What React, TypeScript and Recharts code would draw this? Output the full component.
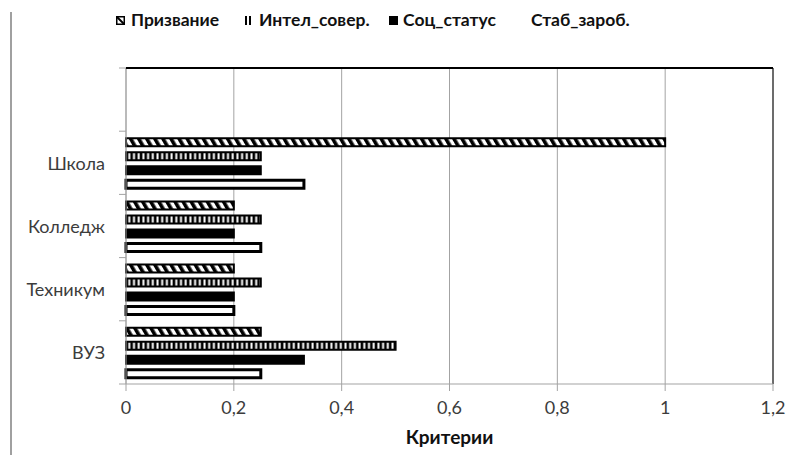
import React from 'react';
import { BarChart, Bar, XAxis, YAxis, CartesianGrid, ReferenceLine } from 'recharts';

// Категории сверху вниз (верхняя полоса пустая)
const categories = [' ', 'Школа', 'Колледж', 'Техникум', 'ВУЗ'];
const prizvanie = [null, 1, 0.2, 0.2, 0.25];
const intelSover = [null, 0.25, 0.25, 0.25, 0.5];
const socStatus = [null, 0.25, 0.2, 0.2, 0.33];
const stabZarob = [null, 0.33, 0.25, 0.2, 0.25];
const xTicks = [0, 0.2, 0.4, 0.6, 0.8, 1, 1.2];

const data = categories.map((name, i) => ({
  name,
  prizvanie: prizvanie[i],
  intelSover: intelSover[i],
  socStatus: socStatus[i],
  stabZarob: stabZarob[i],
}));

const FONT = 'Lato, "Open Sans", sans-serif';
const GRID = '#a3a3a3';
const TEXT = '#3c3c3c';

const CHART_W = 795;
const CHART_H = 455;
const Y_AXIS_W = 126;
const MARGIN = { top: 68, right: 22, bottom: 0, left: 0 };
const PLOT_W = CHART_W - Y_AXIS_W - MARGIN.left - MARGIN.right;

// подпись категории + засечки на границах полос
const CategoryTick = (props: any) => {
  const { x, y, payload } = props;
  const half = payload?.offset ?? 0;
  const axisX = x + 21;
  const isLast = payload.value === categories[categories.length - 1];
  return (
    <g>
      <line x1={axisX - 7} x2={axisX} y1={y - half} y2={y - half} stroke={GRID} />
      {isLast && <line x1={axisX - 7} x2={axisX} y1={y + half} y2={y + half} stroke={GRID} />}
      <text x={x} y={y} textAnchor="end" dominantBaseline="central" fill={TEXT} fontSize={18} fontFamily={FONT}>
        {payload.value}
      </text>
    </g>
  );
};

const LegendIcon = ({ kind }: { kind: string }) => {
  if (kind === 'diag')
    return (
      <svg width={9} height={9} style={{ marginRight: 6 }}>
        <rect x={0.75} y={0.75} width={7.5} height={7.5} fill="#fff" stroke="#000" strokeWidth={1.5} />
        <line x1={1} y1={1} x2={8} y2={8} stroke="#000" strokeWidth={2} />
      </svg>
    );
  if (kind === 'stripes')
    return (
      <svg width={9} height={9} style={{ marginRight: 6 }}>
        <rect x={1} y={0} width={2} height={9} fill="#000" />
        <rect x={5} y={0} width={2} height={9} fill="#000" />
      </svg>
    );
  if (kind === 'solid')
    return (
      <svg width={9} height={9} style={{ marginRight: 5 }}>
        <rect x={0} y={0} width={9} height={9} fill="#000" />
      </svg>
    );
  return <svg width={9} height={9} style={{ marginRight: 5 }} />;
};

const legendItems = [
  { label: 'Призвание', kind: 'diag', left: 116 },
  { label: 'Интел_совер.', kind: 'stripes', left: 244 },
  { label: 'Соц_статус', kind: 'solid', left: 389 },
  { label: 'Стаб_зароб.', kind: 'blank', left: 517 },
];

export default function App() {
  return (
    <div style={{ position: 'absolute', left: 0, top: 0, width: CHART_W, height: CHART_H, background: '#fff' }}>
      <div style={{ position: 'absolute', left: 10, top: 12, width: 2, height: 443, background: '#a0a0a0' }} />
      {legendItems.map((item) => (
        <div
          key={item.label}
          style={{
            position: 'absolute',
            left: item.left,
            top: 10,
            display: 'flex',
            alignItems: 'center',
            fontFamily: FONT,
            fontWeight: 700,
            fontSize: 17.5,
            color: '#111',
            lineHeight: '20px',
            whiteSpace: 'nowrap',
          }}
        >
          <LegendIcon kind={item.kind} />
          {item.label}
        </div>
      ))}
      <BarChart
        width={CHART_W}
        height={CHART_H}
        data={data}
        layout="vertical"
        barSize={8}
        barGap={6}
        margin={MARGIN}
      >
        <defs>
          <pattern id="hatchDiag" patternUnits="userSpaceOnUse" width="7" height="7" patternTransform="rotate(-30)">
            <rect width="7" height="7" fill="#fff" />
            <rect width="3.6" height="7" fill="#000" />
          </pattern>
          <pattern id="vStripes" patternUnits="userSpaceOnUse" width="4.7" height="10">
            <rect width="4.7" height="10" fill="#000" />
            <rect x="1.4" width="2" height="10" fill="#fff" />
          </pattern>
        </defs>
        <CartesianGrid horizontal={false} stroke={GRID} />
        <XAxis
          type="number"
          domain={[0, 1.2]}
          ticks={xTicks}
          tickFormatter={(v: number) => String(v).replace('.', ',')}
          stroke={GRID}
          tickSize={7}
          tickMargin={10}
          height={71}
          tick={{ fill: TEXT, fontSize: 18, fontFamily: FONT }}
          label={{
            value: 'Критерии',
            position: 'insideBottom',
            offset: 11,
            fill: '#111',
            fontSize: 19,
            fontWeight: 700,
            fontFamily: FONT,
          }}
        />
        <YAxis
          type="category"
          dataKey="name"
          width={Y_AXIS_W}
          stroke={GRID}
          tickLine={false}
          tickSize={7}
          tickMargin={14}
          interval={0}
          tick={<CategoryTick />}
        />
        <ReferenceLine x={1.2} stroke="#4a4a4a" strokeWidth={1.5} />
        <Bar dataKey="prizvanie" name="Призвание" fill="url(#hatchDiag)" stroke="#000" strokeWidth={2} isAnimationActive={false} />
        <Bar dataKey="intelSover" name="Интел_совер." fill="url(#vStripes)" stroke="#000" strokeWidth={2} isAnimationActive={false} />
        <Bar dataKey="socStatus" name="Соц_статус" fill="#000" stroke="#000" strokeWidth={2} isAnimationActive={false} />
        <Bar dataKey="stabZarob" name="Стаб_зароб." fill="#fff" stroke="#000" strokeWidth={3} isAnimationActive={false} />
      </BarChart>
      {/* верхняя граница области построения */}
      <div
        style={{
          position: 'absolute',
          left: MARGIN.left + Y_AXIS_W,
          top: MARGIN.top - 1,
          width: PLOT_W,
          height: 2,
          background: '#000',
          pointerEvents: 'none',
        }}
      />
    </div>
  );
}
